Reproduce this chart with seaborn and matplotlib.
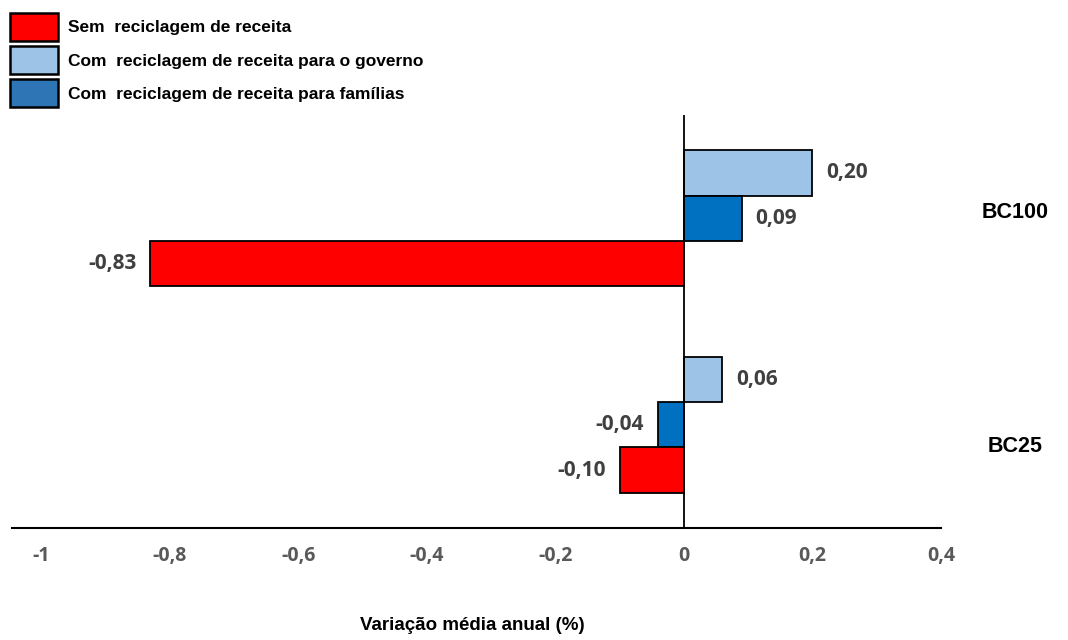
import pandas as pd
import matplotlib.pyplot as plt
import seaborn as sns
from matplotlib.patches import Patch
from matplotlib.transforms import blended_transform_factory

# Dados do grafico
cenarios = ["BC100", "BC25"]
series = [
    "Com  reciclagem de receita para o governo",
    "Com  reciclagem de receita para famílias",
    "Sem  reciclagem de receita",
]
valores_governo = [0.20, 0.06]
valores_familias = [0.09, -0.04]
valores_sem = [-0.83, -0.10]
ticks_x = [-1, -0.8, -0.6, -0.4, -0.2, 0, 0.2, 0.4]

cores = {series[0]: "#9DC3E6", series[1]: "#0070C0", series[2]: "#FF0000"}
cores_legenda = {series[0]: "#9DC3E6", series[1]: "#2E75B6", series[2]: "#FF0000"}

df = pd.DataFrame({
    "cenario": cenarios * 3,
    "serie": [series[0]] * 2 + [series[1]] * 2 + [series[2]] * 2,
    "valor": valores_governo + valores_familias + valores_sem,
})

sns.set_style("white")
plt.rcParams["text.color"] = "black"
fig = plt.figure(figsize=(10.68, 6.4), dpi=100)
ax = fig.add_axes([12 / 1068, 1 - 528 / 640, (941 - 12) / 1068, (528 - 115) / 640])

sns.barplot(data=df, y="cenario", x="valor", hue="serie", order=cenarios,
            hue_order=series, palette=cores, saturation=1, orient="h", width=0.66,
            edgecolor="black", linewidth=1.3, legend=False, ax=ax)

# Rotulos de valor
for cont in ax.containers:
    rotulos = [f"{v:.2f}".replace(".", ",") for v in cont.datavalues]
    ax.bar_label(cont, labels=rotulos, padding=10, fontsize=15,
                 fontweight="bold", color="#404040", family="Open Sans")

ax.set_xlim(-1.045, 0.4)
ax.set_ylim(1.5, -0.5)
ax.axvline(0, color="black", linewidth=1.3)
ax.set_xticks(ticks_x)
ax.set_xticklabels([f"{t:g}".replace(".", ",") for t in ticks_x],
                   fontsize=14, fontweight="bold", color="#595959", family="Open Sans")
ax.tick_params(axis="x", length=0, pad=13)
ax.set_yticks([])
ax.set_ylabel("")
ax.set_xlabel("Variação média anual (%)", fontsize=13.5, fontweight="bold",
              family="Liberation Sans", va="center", color="black")
ax.xaxis.set_label_coords((472 - 12) / (941 - 12), -(626 - 528) / (528 - 115))

for lado in ["top", "right", "left"]:
    ax.spines[lado].set_visible(False)
ax.spines["bottom"].set_color("black")
ax.spines["bottom"].set_linewidth(1.5)

# Nomes dos cenarios a direita
trans = blended_transform_factory(fig.transFigure, ax.transData)
ax.text(1015 / 1068, -0.03, "BC100", transform=trans, ha="center", va="center",
        fontsize=15.5, fontweight="bold", family="Liberation Sans", color="black")
ax.text(1015 / 1068, 1.107, "BC25", transform=trans, ha="center", va="center",
        fontsize=15.5, fontweight="bold", family="Liberation Sans", color="black")

# Legenda
ordem_legenda = [series[2], series[0], series[1]]
handles = [Patch(facecolor=cores_legenda[s], edgecolor="black", linewidth=1.8) for s in ordem_legenda]
fig.legend(handles, ordem_legenda, loc="upper left", bbox_to_anchor=(10 / 1068, 1 - 13 / 640),
           frameon=False, borderpad=0, borderaxespad=0, handlelength=2.75,
           handleheight=2.1, labelspacing=0.3, handletextpad=0.6, labelcolor="black",
           prop={"family": "Liberation Sans", "weight": "bold", "size": 12.5})

fig.savefig("out.png", dpi=100)
